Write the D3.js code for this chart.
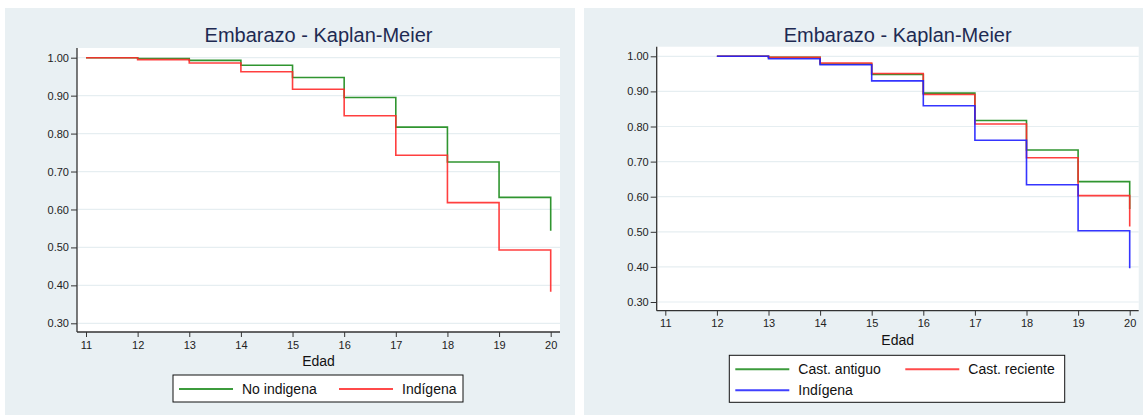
<!DOCTYPE html>
<html>
<head>
<meta charset="utf-8">
<script src="https://cdn.jsdelivr.net/npm/d3@7"></script>
<style>
  body { margin: 0; background: #ffffff; }
  svg { display: block; font-family: "Liberation Sans", Arial, sans-serif; }
</style>
</head>
<body>
<div id="chart"></div>
<script>
// ---- data ----
const leftAges = [11, 12, 13, 14, 15, 16, 17, 18, 19, 20];
const noIndigena = [1.000, 0.998, 0.993, 0.980, 0.948, 0.895, 0.817, 0.725, 0.632, 0.544];
const indigenaLeft = [1.000, 0.995, 0.986, 0.963, 0.917, 0.847, 0.743, 0.618, 0.493, 0.383];

const rightAges = [12, 13, 14, 15, 16, 17, 18, 19, 20];
const castAntiguo = [1.000, 0.997, 0.978, 0.948, 0.895, 0.817, 0.733, 0.643, 0.565];
const castReciente = [1.000, 0.997, 0.981, 0.951, 0.891, 0.807, 0.711, 0.603, 0.515];
const indigenaRight = [1.000, 0.993, 0.976, 0.930, 0.859, 0.761, 0.634, 0.503, 0.396];

const xTicks = [11, 12, 13, 14, 15, 16, 17, 18, 19, 20];
const yTicks = [0.30, 0.40, 0.50, 0.60, 0.70, 0.80, 0.90, 1.00];
const title = "Embarazo - Kaplan-Meier";
const xLabel = "Edad";

const width = 1143, height = 415;
const bg = "#e9f0f3";
const green = "#1a8a1a", red = "#ff2a2a", blue = "#1f1fff";

let svg = d3.select("#chart").append("svg")
  .attr("width", width)
  .attr("height", height);

function panel(p) {
  // panel background
  svg.append("rect")
    .attr("x", p.box[0]).attr("y", p.box[1])
    .attr("width", p.box[2]).attr("height", p.box[3])
    .attr("fill", bg);

  // plot area
  svg.append("rect")
    .attr("x", p.area.left).attr("y", p.area.top)
    .attr("width", p.area.right - p.area.left)
    .attr("height", p.area.bottom - p.area.top)
    .attr("fill", "#ffffff");

  let xScale = d3.scaleLinear().domain([11, 20]).range(p.xr);
  let yScale = d3.scaleLinear().domain([0.3, 1.0]).range(p.yr);

  // grid lines
  svg.append("g").selectAll("line")
    .data(yTicks)
    .enter().append("line")
    .attr("x1", p.area.left + 1).attr("x2", p.area.right)
    .attr("y1", d => yScale(d)).attr("y2", d => yScale(d))
    .attr("stroke", "#e6eef1")
    .attr("stroke-width", 1.2);

  // title
  svg.append("text")
    .attr("x", (p.area.left + p.area.right) / 2)
    .attr("y", 41.5)
    .attr("text-anchor", "middle")
    .style("font-size", "20px")
    .attr("fill", "#1e2a52")
    .text(title);

  // y axis
  let yAxis = svg.append("g")
    .attr("transform", `translate(${p.area.left},0)`)
    .call(d3.axisLeft(yScale).tickValues(yTicks).tickFormat(d3.format(".2f"))
      .tickSize(6).tickSizeOuter(0).tickPadding(2));
  yAxis.select(".domain").remove();
  yAxis.selectAll("text").style("font-size", "11px").attr("fill", "#222");
  yAxis.selectAll("line").attr("stroke", "#333");

  // x axis
  let xAxis = svg.append("g")
    .attr("transform", `translate(0,${p.area.bottom})`)
    .call(d3.axisBottom(xScale).tickValues(xTicks).tickFormat(d3.format("d"))
      .tickSize(5).tickSizeOuter(0).tickPadding(4));
  xAxis.select(".domain").remove();
  xAxis.selectAll("text").style("font-size", "11px").attr("fill", "#222");
  xAxis.selectAll("line").attr("stroke", "#333");

  // axis lines
  svg.append("line")
    .attr("x1", p.area.left).attr("x2", p.area.left)
    .attr("y1", p.area.top).attr("y2", p.area.bottom)
    .attr("stroke", "#333").attr("stroke-width", 1.3);
  svg.append("line")
    .attr("x1", p.area.left).attr("x2", p.area.right)
    .attr("y1", p.area.bottom).attr("y2", p.area.bottom)
    .attr("stroke", "#333").attr("stroke-width", 1.3);

  // x label
  svg.append("text")
    .attr("x", (p.area.left + p.area.right) / 2)
    .attr("y", p.area.bottom + 34)
    .attr("text-anchor", "middle")
    .style("font-size", "14px")
    .attr("fill", "#111")
    .text(xLabel);

  // survival step curves
  let line = d3.line()
    .x(d => xScale(d[0]))
    .y(d => yScale(d[1]))
    .curve(d3.curveStepAfter);

  p.series.forEach(s => {
    svg.append("path")
      .datum(s.ages.map((a, i) => [a, s.values[i]]))
      .attr("d", line)
      .attr("fill", "none")
      .attr("stroke", s.color)
      .attr("stroke-opacity", 0.9)
      .attr("stroke-width", 1.6);
  });

  // legend
  let lg = p.legend;
  svg.append("rect")
    .attr("x", lg.x).attr("y", lg.y)
    .attr("width", lg.w).attr("height", lg.h)
    .attr("fill", "#ffffff")
    .attr("stroke", "#111")
    .attr("stroke-width", 1);

  let items = svg.selectAll(null)
    .data(p.series)
    .enter().append("g")
    .attr("transform", (d, i) => `translate(${lg.x + 6 + (i % 2) * lg.colW},${lg.y + lg.rowY + Math.floor(i / 2) * 21})`);

  items.append("line")
    .attr("x1", 0).attr("x2", 54)
    .attr("y1", 0).attr("y2", 0)
    .attr("stroke", d => d.color)
    .attr("stroke-width", 2)
    .attr("stroke-opacity", 0.85);

  items.append("text")
    .attr("x", 63)
    .attr("y", 5)
    .style("font-size", "14px")
    .attr("fill", "#111")
    .text(d => d.name);
}

panel({
  box: [5, 8, 570, 407],
  area: { left: 77, right: 560, top: 48, bottom: 332 },
  xr: [86, 550.7],
  yr: [323.3, 57.7],
  series: [
    { name: "No indigena", ages: leftAges, values: noIndigena, color: green },
    { name: "Indígena", ages: leftAges, values: indigenaLeft, color: red }
  ],
  legend: { x: 173, y: 375, w: 290, h: 27, colW: 160, rowY: 14 }
});

panel({
  box: [584, 8, 559, 407],
  area: { left: 656.7, right: 1138.7, top: 46.7, bottom: 310.7 },
  xr: [665.3, 1129.7],
  yr: [302, 56.3],
  series: [
    { name: "Cast. antiguo", ages: rightAges, values: castAntiguo, color: green },
    { name: "Cast. reciente", ages: rightAges, values: castReciente, color: red },
    { name: "Indígena", ages: rightAges, values: indigenaRight, color: blue }
  ],
  legend: { x: 729.3, y: 355.3, w: 335.4, h: 47, colW: 170, rowY: 14 }
});
</script>
</body>
</html>
